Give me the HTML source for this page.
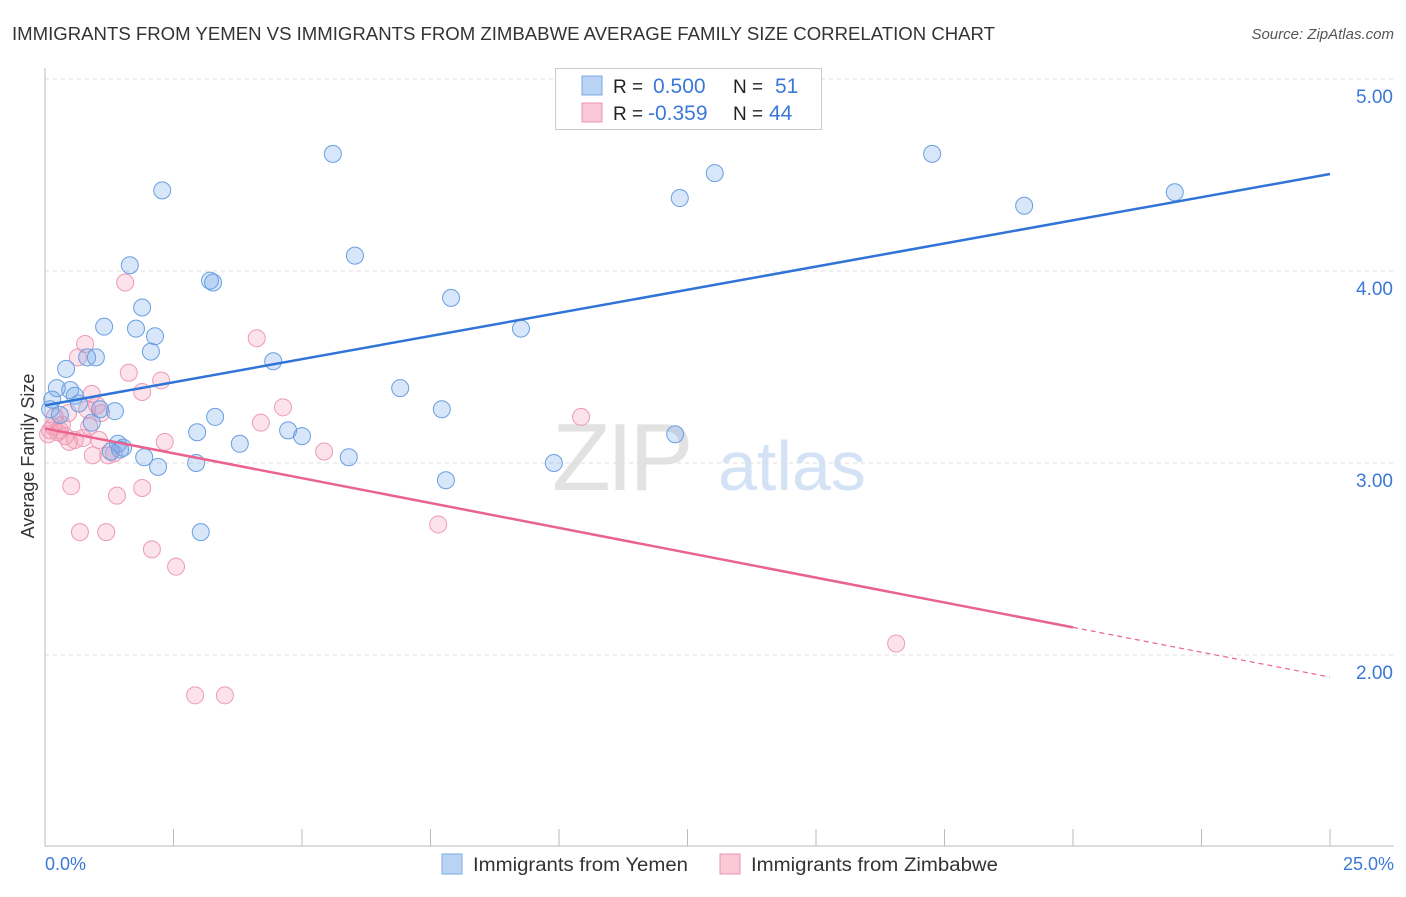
<!DOCTYPE html>
<html><head><meta charset="utf-8"><style>
body{margin:0;background:#fff;font-family:"Liberation Sans",sans-serif;}
svg text{font-family:"Liberation Sans",sans-serif;}
</style></head><body>
<svg id="chart" width="1406" height="892" xmlns="http://www.w3.org/2000/svg">
<text x="12" y="40" font-size="18" fill="#333" textLength="983" lengthAdjust="spacingAndGlyphs">IMMIGRANTS FROM YEMEN VS IMMIGRANTS FROM ZIMBABWE AVERAGE FAMILY SIZE CORRELATION CHART</text>
<text x="1394" y="39" font-size="15" fill="#555" font-style="italic" text-anchor="end">Source: ZipAtlas.com</text>
<g><text x="552" y="490" font-size="96" fill="#e2e2e2" font-family="Liberation Serif,serif" letter-spacing="-4">ZIP</text><text x="718" y="490" font-size="70" fill="#d3e2f5">atlas</text></g>
<g id="grid"></g>
<line x1="45" y1="68" x2="45" y2="846" stroke="#bbb"/>
<line x1="45" y1="846" x2="1394" y2="846" stroke="#bbb"/>
<g id="xticks"></g>
<text transform="translate(34,456) rotate(-90)" font-size="18" fill="#333" text-anchor="middle">Average Family Size</text>
<text x="45" y="870" font-size="18" fill="#3b78d8">0.0%</text>
<text x="1394" y="870" font-size="18" fill="#3b78d8" text-anchor="end">25.0%</text>
<g id="points"></g>
<g id="trends"></g>
<g>
<rect x="555.5" y="68.5" width="266" height="61" fill="#fff" stroke="#ccc"/>
<rect x="582" y="76" width="20" height="19" fill="#b9d3f5" stroke="#7aa7e6"/>
<rect x="582" y="103" width="20" height="19" fill="#fbc8d7" stroke="#ee93b0"/>
<text x="613" y="93" font-size="19" fill="#222">R = </text><text x="653" y="93" font-size="21" fill="#3b78d8">0.500</text>
<text x="733" y="93" font-size="19" fill="#222">N = </text><text x="775" y="93" font-size="21" fill="#3b78d8">51</text>
<text x="613" y="120" font-size="19" fill="#222">R = </text><text x="648" y="120" font-size="21" fill="#3b78d8">-0.359</text>
<text x="733" y="120" font-size="19" fill="#222">N = </text><text x="769" y="120" font-size="21" fill="#3b78d8">44</text>
</g>
<g>
<rect x="442" y="854" width="20" height="20" fill="#b9d3f5" stroke="#7aa7e6"/>
<text x="473" y="871" font-size="19" fill="#333" textLength="215" lengthAdjust="spacingAndGlyphs">Immigrants from Yemen</text>
<rect x="720" y="854" width="20" height="20" fill="#fbc8d7" stroke="#ee93b0"/>
<text x="751" y="871" font-size="19" fill="#333" textLength="247" lengthAdjust="spacingAndGlyphs">Immigrants from Zimbabwe</text>
</g>
</svg>
<script>
const yTicks=[5,4,3,2];
const yTickLabels=["5.00","4.00","3.00","2.00"];
const xTicks=[2.5,5,7.5,10,12.5,15,17.5,20,22.5,25];
const yemenX=[5.60,2.28,17.26,13.03,12.35,21.98,19.05,6.03,1.65,3.21,3.27,7.90,1.89,1.15,1.77,2.14,9.26,2.06,0.82,0.99,0.41,4.44,0.23,0.49,6.91,0.58,0.14,0.66,1.36,7.72,3.31,0.91,2.96,4.73,3.79,5.00,1.42,1.52,1.28,1.93,5.91,9.90,2.20,2.94,12.26,7.80,3.03,0.10,0.29,1.07,1.46];
const yemenY=[4.61,4.42,4.61,4.51,4.38,4.41,4.34,4.08,4.03,3.95,3.94,3.86,3.81,3.71,3.70,3.66,3.70,3.58,3.55,3.55,3.49,3.53,3.39,3.38,3.39,3.35,3.33,3.31,3.27,3.28,3.24,3.21,3.16,3.17,3.10,3.14,3.10,3.08,3.06,3.03,3.03,3.00,2.98,3.00,3.15,2.91,2.64,3.28,3.25,3.28,3.07];
const zimX=[1.56,4.12,0.78,0.64,1.63,2.26,1.89,0.91,1.01,4.63,1.09,4.20,10.43,0.45,0.19,0.33,0.10,0.25,0.06,0.86,0.74,1.05,2.33,0.47,0.93,1.34,1.23,5.43,0.51,1.89,1.40,0.68,1.19,7.65,2.08,2.55,16.56,2.92,3.50,0.29,0.16,0.39,0.58,0.82];
const zimY=[3.94,3.65,3.62,3.55,3.47,3.43,3.37,3.36,3.30,3.29,3.26,3.21,3.24,3.26,3.24,3.20,3.17,3.16,3.15,3.19,3.13,3.12,3.11,3.11,3.04,3.05,3.04,3.06,2.88,2.87,2.83,2.64,2.64,2.68,2.55,2.46,2.06,1.79,1.79,3.17,3.19,3.14,3.12,3.28];
const yemenTrend=[3.30,4.505];
const zimTrend=[3.18,1.885];
const zimSolidEnd=20.0;
const NS="http://www.w3.org/2000/svg";
const sx=v=>45+v/25*1285;
const sy=v=>79+(5-v)*192;
function mk(tag,attrs,parent){const e=document.createElementNS(NS,tag);for(const k in attrs)e.setAttribute(k,attrs[k]);parent.appendChild(e);return e;}
const grid=document.getElementById('grid');
yTicks.forEach((t,i)=>{
  const l=mk('line',{x1:45,x2:1394,y1:sy(t),y2:sy(t),stroke:'#ddd','stroke-dasharray':'4,4'},grid);
  
  
  const tx=mk('text',{x:1393,y:sy(t)+24,'font-size':19,fill:'#3b78d8','text-anchor':'end'},grid);
  tx.textContent=yTickLabels[i];
  
  
});
const xt=document.getElementById('xticks');
xTicks.forEach(t=>{
  const l=mk('line',{x1:sx(t),x2:sx(t),y1:829,y2:846,stroke:'#bbb'},xt);
  
  
});
const pts=document.getElementById('points');
zimX.forEach((x,i)=>{
  const c=mk('circle',{cx:sx(x),cy:sy(zimY[i]),r:8.5,fill:'rgba(244,150,180,0.28)',stroke:'#ee9bb5','stroke-width':1},pts);
  
  
});
yemenX.forEach((x,i)=>{
  const c=mk('circle',{cx:sx(x),cy:sy(yemenY[i]),r:8.5,fill:'rgba(110,165,232,0.28)',stroke:'#6a9fe0','stroke-width':1},pts);
  
  
});
const tr=document.getElementById('trends');
const b=mk('line',{x1:sx(0),y1:sy(yemenTrend[0]),x2:sx(25),y2:sy(yemenTrend[1]),stroke:'#2f74d6','stroke-width':2.5},tr);


const zAt=x=>zimTrend[0]+(zimTrend[1]-zimTrend[0])*x/25;
const p=mk('line',{x1:sx(0),y1:sy(zAt(0)),x2:sx(zimSolidEnd),y2:sy(zAt(zimSolidEnd)),stroke:'#e8648f','stroke-width':2.5},tr);


const pd=mk('line',{x1:sx(zimSolidEnd),y1:sy(zAt(zimSolidEnd)),x2:sx(25),y2:sy(zAt(25)),stroke:'#e8648f','stroke-width':1.2,'stroke-dasharray':'5,4'},tr);


</script>
</body></html>
